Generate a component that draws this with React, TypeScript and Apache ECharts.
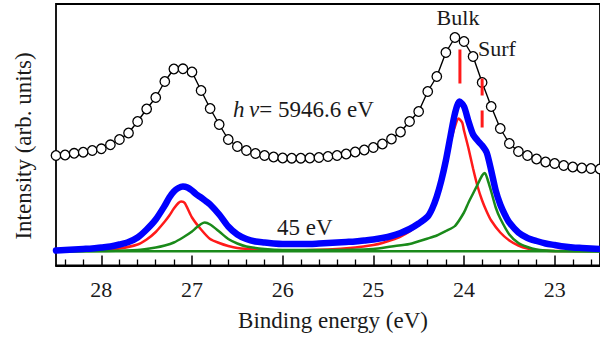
import React, { useEffect, useRef } from 'react';
import * as echarts from 'echarts';

// x: binding energy (eV), y: intensity (arb. units)
const majorTicks = [23, 24, 25, 26, 27, 28];
const minorTicks = [22.6, 22.8, 23.2, 23.4, 23.6, 23.8, 24.2, 24.4, 24.6, 24.8, 25.2, 25.4, 25.6, 25.8, 26.2, 26.4, 26.6, 26.8, 27.2, 27.4, 27.6, 27.8, 28.2, 28.4];

// hv = 5946.6 eV (open circles)
const energyBlack = [28.5, 28.4, 28.3, 28.2, 28.1, 28.0, 27.9, 27.8, 27.7, 27.6, 27.5, 27.4, 27.3, 27.2, 27.1, 27.0, 26.9, 26.8, 26.7, 26.6, 26.5, 26.4, 26.3, 26.2, 26.1, 26.0, 25.9, 25.8, 25.7, 25.6, 25.5, 25.4, 25.3, 25.2, 25.1, 25.0, 24.9, 24.8, 24.7, 24.6, 24.5, 24.4, 24.3, 24.2, 24.1, 24.0, 23.9, 23.8, 23.7, 23.6, 23.5, 23.4, 23.3, 23.2, 23.1, 23.0, 22.9, 22.8, 22.7, 22.6, 22.5];
const intensityBlack = [110, 110.5, 112.2, 113.3, 115, 116.7, 120.7, 126, 132.5, 144, 156.5, 168, 184, 196.5, 196.7, 193.5, 175, 157, 141, 126, 119, 115, 112, 110, 108.5, 107.5, 107.3, 107.3, 107.5, 108, 109, 110, 111.5, 113.5, 115.5, 118, 121.5, 126.5, 133.5, 144, 154, 174, 189, 213, 228, 224, 209, 183, 159, 137, 122, 114, 110, 106.5, 103.5, 102, 100, 98.5, 97.5, 97, 96.5];

// 45 eV (blue)
const energyBlue = [28.5, 28.4, 28.3, 28.2, 28.1, 28.0, 27.9, 27.8, 27.7, 27.6, 27.5, 27.4, 27.3, 27.25, 27.2, 27.15, 27.1, 27.05, 27.0, 26.95, 26.9, 26.85, 26.8, 26.7, 26.6, 26.5, 26.4, 26.3, 26.2, 26.1, 26.0, 25.9, 25.8, 25.7, 25.6, 25.5, 25.4, 25.3, 25.2, 25.1, 25.0, 24.9, 24.8, 24.7, 24.6, 24.5, 24.4, 24.35, 24.3, 24.25, 24.2, 24.15, 24.1, 24.05, 24.0, 23.95, 23.9, 23.85, 23.8, 23.75, 23.7, 23.65, 23.6, 23.55, 23.5, 23.4, 23.3, 23.2, 23.1, 23.0, 22.9, 22.8, 22.7, 22.6, 22.5];
const intensityBlue = [15, 15.5, 16, 16.5, 17, 18, 19, 21, 23.5, 28, 36, 46, 60, 68, 74, 77.5, 79, 78, 75, 71, 68, 64.5, 61, 51, 39, 31, 26.5, 24, 23, 22, 21.5, 21.5, 21.5, 21.5, 22, 22.5, 23, 23.5, 24, 25, 26, 27.5, 29.5, 32.5, 36.5, 42, 49, 57, 69, 85, 105, 129, 152, 164, 159, 144, 131, 125, 120, 113, 95, 75, 61, 51, 43, 33, 27.5, 24.5, 22, 20.5, 19, 18, 17.5, 17, 16.5];

// Bulk component (red)
const energyRed = [28.5, 28.2, 28.0, 27.8, 27.6, 27.5, 27.4, 27.3, 27.25, 27.2, 27.15, 27.12, 27.08, 27.0, 26.9, 26.8, 26.7, 26.6, 26.5, 26.3, 26.0, 25.5, 25.2, 25.0, 24.9, 24.8, 24.7, 24.6, 24.5, 24.4, 24.35, 24.3, 24.25, 24.2, 24.15, 24.1, 24.06, 24.02, 24.0, 23.95, 23.9, 23.85, 23.8, 23.75, 23.7, 23.6, 23.5, 23.4, 23.3, 23.2, 23.0, 22.5];
const intensityRed = [14.5, 15, 15.5, 17, 21, 26, 33.5, 44, 50, 57, 62.5, 64, 62.5, 48, 36, 26.5, 22.5, 19.5, 17.5, 16, 15, 16, 18, 20.5, 22.5, 25.5, 29, 34, 41, 50, 58, 69, 84, 103, 123, 139, 147, 143, 135, 117, 97, 79, 65, 54, 45, 33, 25, 20, 17, 15.5, 14.5, 14.5];

// Surface component (green)
const energyGreen = [28.5, 28.0, 27.6, 27.4, 27.3, 27.2, 27.1, 27.0, 26.95, 26.9, 26.86, 26.8, 26.7, 26.6, 26.5, 26.4, 26.2, 26.0, 25.5, 25.0, 24.8, 24.6, 24.4, 24.3, 24.2, 24.1, 24.0, 23.95, 23.9, 23.85, 23.8, 23.77, 23.74, 23.7, 23.65, 23.6, 23.5, 23.4, 23.3, 23.2, 23.1, 23.0, 22.5];
const intensityGreen = [14, 14.5, 15.5, 18, 20, 23, 28, 34, 38, 41.5, 43, 41, 34, 26.5, 22, 19, 16.5, 15.5, 15.5, 16.5, 19, 21.5, 27, 30, 34.5, 39.5, 53, 63, 72, 81, 90, 92.5, 86, 74, 58, 47, 31, 22.5, 18.5, 16, 15, 14.5, 14];

// Background (green flat line)
const energyBackground = [28.5, 22.5];
const intensityBackground = [14.3, 14.3];

// Peak position markers (red dashed)
const bulkMarkerE = [24.045, 24.045];
const bulkMarkerI = [216, 182];
const surfMarkerE = [23.8, 23.8];
const surfMarkerI = [187, 137];

const zip = (xs: number[], ys: number[]) => xs.map((x, i) => [x, ys[i]]);

const FONT = 'Liberation Serif';
const TEXT = '#1a1a1a';

export default function App() {
  const ref = useRef<HTMLDivElement>(null);
  useEffect(() => {
    if (!ref.current) return;
    const chart = echarts.init(ref.current, undefined, { renderer: 'svg' });
    const axisCommon = {
      type: 'value',
      min: 22.5,
      max: 28.5,
      inverse: true,
      position: 'bottom',
      splitLine: { show: false },
      minorTick: { show: false },
    };
    chart.setOption({
      animation: false,
      backgroundColor: '#ffffff',
      grid: {
        left: 56,
        right: -3.2,
        top: 4,
        bottom: 75.5,
        show: true,
        borderColor: '#000',
        borderWidth: 1.8,
        backgroundColor: 'transparent',
      },
      xAxis: [
        {
          ...axisCommon,
          axisLine: { show: true, lineStyle: { color: '#000', width: 1.8 } },
          axisTick: { show: true, inside: true, length: 10, customValues: majorTicks, lineStyle: { color: '#000', width: 1.5 } },
          axisLabel: {
            show: true,
            customValues: majorTicks,
            margin: 13,
            fontSize: 22,
            fontFamily: FONT,
            color: TEXT,
            formatter: (v: number) => String(v),
          },
        },
        {
          ...axisCommon,
          axisLine: { show: false },
          axisTick: { show: true, inside: true, length: 6, customValues: minorTicks, lineStyle: { color: '#000', width: 1.3 } },
          axisLabel: { show: false },
        },
      ],
      yAxis: {
        type: 'value',
        min: 0,
        max: 261.5,
        axisLine: { show: false },
        axisTick: { show: false },
        axisLabel: { show: false },
        splitLine: { show: false },
      },
      series: [
        {
          name: 'hv = 5946.6 eV',
          type: 'line',
          data: zip(energyBlack, intensityBlack),
          symbol: 'circle',
          symbolSize: 9.5,
          showSymbol: true,
          itemStyle: { color: '#ffffff', borderColor: '#000', borderWidth: 1.3 },
          lineStyle: { color: '#000', width: 1.4 },
          z: 2,
        },
        {
          name: 'Bulk',
          type: 'line',
          data: zip(energyRed, intensityRed),
          showSymbol: false,
          smooth: 0.25,
          lineStyle: { color: '#ff1a1a', width: 2.5 },
          z: 3,
        },
        {
          name: 'Surf',
          type: 'line',
          data: zip(energyGreen, intensityGreen),
          showSymbol: false,
          smooth: 0.25,
          lineStyle: { color: '#1a8a1a', width: 2.5 },
          z: 3,
        },
        {
          name: 'Background',
          type: 'line',
          data: zip(energyBackground, intensityBackground),
          showSymbol: false,
          lineStyle: { color: '#1a8a1a', width: 2.5 },
          z: 3,
        },
        {
          name: '45 eV',
          type: 'line',
          data: zip(energyBlue, intensityBlue),
          showSymbol: false,
          smooth: 0.25,
          lineStyle: { color: '#0000ff', width: 6.5, cap: 'round', join: 'round' },
          z: 4,
        },
        {
          name: 'Bulk marker',
          type: 'line',
          data: zip(bulkMarkerE, bulkMarkerI),
          showSymbol: false,
          lineStyle: { color: '#ff1a1a', width: 3 },
          z: 5,
        },
        {
          name: 'Surf marker',
          type: 'line',
          data: zip(surfMarkerE, surfMarkerI),
          showSymbol: false,
          lineStyle: { color: '#ff1a1a', width: 3, type: [17, 15] },
          z: 5,
        },
      ],
      graphic: [
        {
          type: 'text',
          x: 23,
          y: 146,
          rotation: Math.PI / 2,
          style: { text: 'Intensity (arb. units)', fontSize: 23, fontFamily: FONT, fill: TEXT, align: 'center', verticalAlign: 'middle' },
        },
        {
          type: 'text',
          x: 333,
          y: 320,
          style: { text: 'Binding energy (eV)', fontSize: 23, fontFamily: FONT, fill: TEXT, align: 'center', verticalAlign: 'middle' },
        },
        {
          type: 'text',
          x: 458,
          y: 17,
          style: { text: 'Bulk', fontSize: 22, fontFamily: FONT, fill: TEXT, align: 'center', verticalAlign: 'middle' },
        },
        {
          type: 'text',
          x: 478,
          y: 48,
          style: { text: 'Surf', fontSize: 22, fontFamily: FONT, fill: TEXT, align: 'left', verticalAlign: 'middle' },
        },
        {
          type: 'text',
          x: 233,
          y: 109,
          style: {
            text: '{i|h\u2009ν}= 5946.6 eV',
            fontSize: 23,
            fontFamily: FONT,
            fill: TEXT,
            align: 'left',
            verticalAlign: 'middle',
            rich: { i: { fontStyle: 'italic', fontSize: 23, fontFamily: FONT, fill: TEXT } },
          },
        },
        {
          type: 'text',
          x: 277,
          y: 227.5,
          style: { text: '45 eV', fontSize: 23, fontFamily: FONT, fill: TEXT, align: 'left', verticalAlign: 'middle' },
        },
      ],
    });
    return () => chart.dispose();
  }, []);
  return (
    <div
      ref={ref}
      style={{ position: 'absolute', left: 0, top: 0, width: 600, height: 341, background: '#fff' }}
    />
  );
}
